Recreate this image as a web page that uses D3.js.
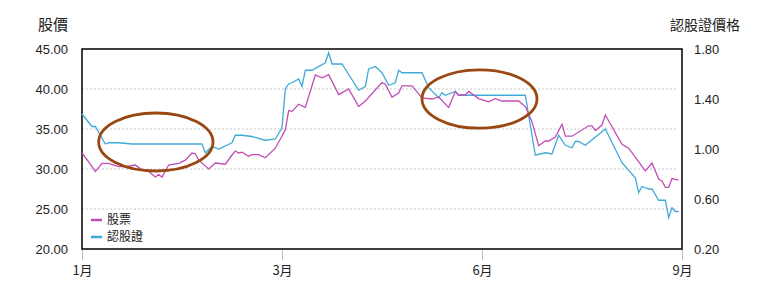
<!DOCTYPE html>
<html>
<head>
<meta charset="utf-8">
<script src="https://d3js.org/d3.v7.min.js"></script>
<style>
  body { margin: 0; background: #fff; }
  svg text { fill: #222; }
  .num { font-family: "Liberation Sans", Arial, sans-serif; font-size: 13px; }
  .cjk { font-family: "Noto Sans CJK TC", "Noto Sans CJK SC", sans-serif; }
</style>
</head>
<body>
<svg id="chart" width="771" height="300"></svg>
<script>
// trading-day index (1月 = 0 ... 9月 = 180)
var monthTicks = [0, 60, 120, 180];
var monthLabels = ["1月", "3月", "6月", "9月"];
var leftTicks = [20, 25, 30, 35, 40, 45];
var rightTicks = [0.2, 0.6, 1.0, 1.4, 1.8];

var stockDay = [0,2,4,6,8,11,13,16,18,20,22,23,24,26,29,31,33,34,35,38,40,43,45,46,47,48,50,51,53,55,58,61,62,63,65,67,70,72,74,77,80,83,85,90,91,93,95,96,99,102,105,107,110,112,113,115,116,119,122,124,126,131,133,135,137,139,140,142,144,145,147,152,153,154,156,157,162,164,169,171,173,174,175,176,177,179];
var stockPrice = [32.0,30.9,29.7,30.7,30.7,30.3,30.3,30.5,29.9,29.7,29.0,29.3,29.0,30.5,30.7,31.1,32.0,31.9,31.1,30.0,30.75,30.6,31.75,32.25,32.0,32.1,31.6,31.8,31.8,31.4,32.6,34.9,37.3,37.2,38.1,37.7,41.75,41.4,41.8,39.3,40.0,37.8,38.5,40.8,40.6,39.0,39.5,40.4,40.4,38.9,38.75,39.0,37.7,39.7,39.25,39.25,39.7,38.8,38.4,38.8,38.5,38.5,37.8,35.9,32.9,33.5,33.5,34.0,35.6,34.1,34.1,35.4,35.4,34.8,35.5,36.75,33.1,32.6,29.75,30.75,28.75,28.5,27.7,27.7,28.8,28.6];

var warrantDay = [0,3,4,7,8,11,15,36,37,39,41,45,46,48,51,55,58,60,61,62,63,65,66,67,69,73,74,75,78,83,85,86,88,90,92,94,95,96,102,104,107,108,109,112,113,133,135,136,139,141,143,145,147,148,149,151,157,162,166,167,168,170,171,173,175,176,177,178,179];
var warrantPrice = [1.28,1.18,1.18,1.04,1.05,1.05,1.04,1.04,0.97,1.02,1.00,1.05,1.11,1.11,1.10,1.07,1.08,1.17,1.48,1.52,1.53,1.56,1.50,1.63,1.63,1.69,1.77,1.68,1.68,1.47,1.50,1.64,1.66,1.61,1.51,1.53,1.63,1.61,1.61,1.49,1.41,1.45,1.43,1.46,1.43,1.43,1.11,0.95,0.97,0.96,1.11,1.03,1.01,1.06,1.06,1.03,1.16,0.89,0.77,0.65,0.70,0.68,0.68,0.59,0.59,0.45,0.53,0.50,0.50];

// highlighted periods (day range, stock price range)
var highlightFrom = [5, 102];
var highlightTo = [39.3, 136.5];
var highlightTop = [37.0, 42.4];
var highlightBottom = [29.75, 35.1];

var seriesNames = ["股票", "認股證"];
var seriesColors = ["#c04db3", "#3fa9d8"];

var margin = {top: 49, right: 89, bottom: 51, left: 82};
var width = 771 - margin.left - margin.right,
    height = 300 - margin.top - margin.bottom;

var svg = d3.select("#chart");
var g = svg.append("g").attr("transform", "translate(" + margin.left + "," + margin.top + ")");

var x = d3.scaleLinear().domain([0, 180]).range([0, width]);
var yL = d3.scaleLinear().domain([20, 45]).range([height, 0]);
var yR = d3.scaleLinear().domain([0.2, 1.8]).range([height, 0]);

// grid
g.append("g").selectAll("line")
  .data(leftTicks.slice(1, -1))
  .enter().append("line")
  .attr("x1", 0).attr("x2", width - 4)
  .attr("y1", function(d) { return yL(d); })
  .attr("y2", function(d) { return yL(d); })
  .attr("stroke", "#c8c8c8")
  .attr("stroke-dasharray", "2,2");

// axes
var leftAxis = g.append("g")
  .call(d3.axisLeft(yL).tickValues(leftTicks).tickSize(0).tickPadding(14).tickFormat(d3.format(".2f")));
leftAxis.select(".domain").remove();
leftAxis.selectAll("text").attr("class", "num").attr("font-size", null).attr("font-family", null);

var rightAxis = g.append("g").attr("transform", "translate(" + width + ",0)")
  .call(d3.axisRight(yR).tickValues(rightTicks).tickSize(0).tickPadding(12).tickFormat(d3.format(".2f")));
rightAxis.select(".domain").remove();
rightAxis.selectAll("text").attr("class", "num").attr("font-size", null).attr("font-family", null);

var bottomAxis = g.append("g").attr("transform", "translate(0," + height + ")")
  .call(d3.axisBottom(x).tickValues(monthTicks).tickSize(11).tickPadding(6)
    .tickFormat(function(d, i) { return monthLabels[i]; }));
bottomAxis.select(".domain").remove();
bottomAxis.selectAll("line").attr("stroke", "#c0c0c0");
bottomAxis.selectAll("text").attr("class", "cjk").attr("font-size", "13px").attr("font-family", null);

// frame
g.append("rect").attr("width", width).attr("height", height)
  .attr("fill", "none").attr("stroke", "#000").attr("stroke-width", 1.5);

// lines
var stockLine = d3.line()
  .x(function(d, i) { return x(stockDay[i]); })
  .y(function(d) { return yL(d); });
var warrantLine = d3.line()
  .x(function(d, i) { return x(warrantDay[i]); })
  .y(function(d) { return yR(d); });

g.append("path").datum(warrantPrice).attr("d", warrantLine)
  .attr("fill", "none").attr("stroke", seriesColors[1]).attr("stroke-width", 1.3);
g.append("path").datum(stockPrice).attr("d", stockLine)
  .attr("fill", "none").attr("stroke", seriesColors[0]).attr("stroke-width", 1.3);

// highlight ellipses
g.append("g").selectAll("ellipse")
  .data(highlightFrom)
  .enter().append("ellipse")
  .attr("cx", function(d, i) { return (x(d) + x(highlightTo[i])) / 2; })
  .attr("cy", function(d, i) { return (yL(highlightTop[i]) + yL(highlightBottom[i])) / 2; })
  .attr("rx", function(d, i) { return (x(highlightTo[i]) - x(d)) / 2; })
  .attr("ry", function(d, i) { return (yL(highlightBottom[i]) - yL(highlightTop[i])) / 2; })
  .attr("fill", "none")
  .attr("stroke", "#9a4813")
  .attr("stroke-width", 2.8);

// legend
var legend = g.append("g").attr("transform", "translate(9,171)");
legend.selectAll("g")
  .data(seriesNames)
  .enter().append("g")
  .attr("transform", function(d, i) { return "translate(0," + (i * 17) + ")"; })
  .each(function(d, i) {
    var it = d3.select(this);
    it.append("line").attr("x1", 0).attr("x2", 11)
      .attr("stroke", seriesColors[i]).attr("stroke-width", 2.5);
    it.append("text").attr("class", "cjk").attr("x", 16).attr("dy", "0.35em")
      .attr("font-size", "12px").text(d);
  });

// titles
svg.append("text").attr("class", "cjk").attr("x", 38).attr("y", 25).attr("dy", "0.35em")
  .attr("font-size", "15px").text("股價");
svg.append("text").attr("class", "cjk").attr("x", 670).attr("y", 25).attr("dy", "0.35em")
  .attr("font-size", "14px").text("認股證價格");
</script>
</body>
</html>
